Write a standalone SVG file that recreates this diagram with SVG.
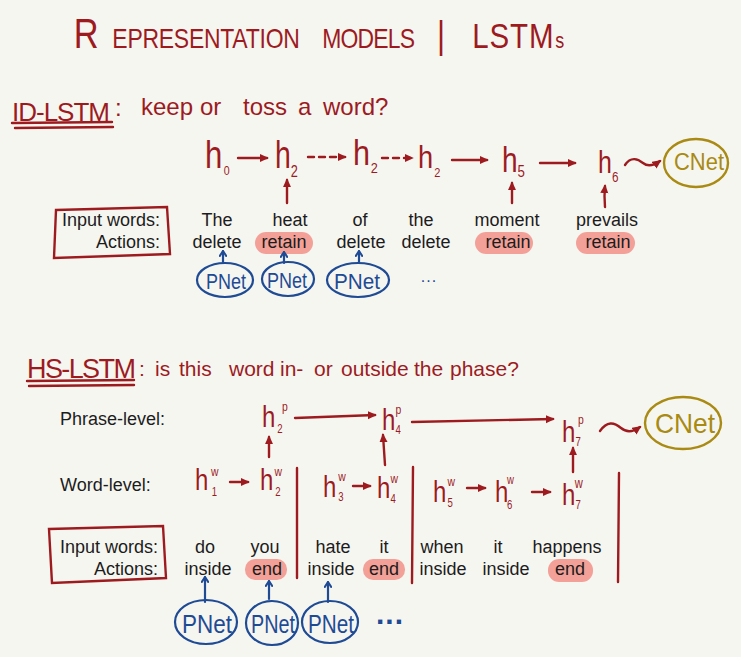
<svg xmlns="http://www.w3.org/2000/svg" width="741" height="657" viewBox="0 0 741 657">
<defs>
<style>
.hw{font-family:"Liberation Sans",Arial,sans-serif;fill:#9d1b1f}
.sans{font-family:"Liberation Sans",Arial,sans-serif;font-size:18px;fill:#1c1c1c}
.c{text-anchor:middle}
.r{text-anchor:end}
.ln{fill:none;stroke:#9d1b1f;stroke-width:2.4;stroke-linecap:round}
.bl{fill:none;stroke:#1f4b95;stroke-width:2.2;stroke-linecap:round}
.gd{fill:none;stroke:#a98a12;stroke-width:2.4}
.hl{fill:#f3a198}
.pn{font-family:"Liberation Sans",Arial,sans-serif;fill:#1f4b95;text-anchor:middle}
.cn{font-family:"Liberation Sans",Arial,sans-serif;fill:#a98a12;text-anchor:middle}
</style>
<marker id="ah" viewBox="0 0 10 10" refX="8" refY="5" markerWidth="9" markerHeight="9" markerUnits="userSpaceOnUse" orient="auto"><path d="M0,0.5 L10,5 L0,9.5 Z" fill="#9d1b1f"/></marker>
<marker id="bh" viewBox="0 0 10 10" refX="9" refY="5" markerWidth="8" markerHeight="8" markerUnits="userSpaceOnUse" orient="auto"><path d="M3,1 L9,5 L3,9" fill="none" stroke="#1f4b95" stroke-width="2.6" stroke-linecap="round" stroke-linejoin="round"/></marker>
</defs>
<rect width="741" height="657" fill="#f6f6f1"/>

<g id="title">
<text class="hw" transform="translate(0,48) scale(0.82,1)"><tspan x="90" font-size="42">R</tspan><tspan x="137" font-size="28" letter-spacing="-0.3">EPRESENTATION </tspan><tspan x="393" font-size="28" letter-spacing="-1">MODELS </tspan><tspan x="533" font-size="38">| </tspan><tspan x="576" font-size="36" letter-spacing="1">LSTM</tspan><tspan x="677" font-size="22">s</tspan></text>
</g>

<g id="subtitle-id">
<text class="hw" y="121"><tspan x="12" font-size="26" letter-spacing="-1">ID-LSTM</tspan><tspan x="115" y="116" font-size="24">: </tspan><tspan x="141" y="115" font-size="24">keep </tspan><tspan x="200" y="115" font-size="24">or </tspan><tspan x="243" y="115" font-size="24">toss </tspan><tspan x="298" y="115" font-size="24">a </tspan><tspan x="323" y="115" font-size="24">word?</tspan></text>
<path class="ln" d="M12,123 L112,122 M15,128 L113,127" stroke-width="2"/>
</g>

<g id="subtitle-hs">
<text class="hw" y="378"><tspan x="27" font-size="27" letter-spacing="-1.6">HS-LSTM</tspan><tspan x="139" y="376" font-size="21">: </tspan><tspan x="155" y="376" font-size="21">is </tspan><tspan x="179" y="376" font-size="21">this </tspan><tspan x="229" y="376" font-size="21">word </tspan><tspan x="280" y="376" font-size="21">in- </tspan><tspan x="314" y="376" font-size="21">or </tspan><tspan x="341" y="376" font-size="21">outside </tspan><tspan x="414" y="376" font-size="21">the </tspan><tspan x="450" y="376" font-size="21">phase?</tspan></text>
<path class="ln" d="M27,381 L134,380 M29,386 L134,385" stroke-width="2"/>
</g>

<!-- ID-LSTM states -->
<g id="n-h0"><text class="hw" transform="translate(205,168) scale(0.82,1)"><tspan font-size="38">h</tspan><tspan x="23" y="7" font-size="13">0</tspan></text></g>
<g id="n-h2a"><text class="hw" transform="translate(275,168) scale(0.75,1)"><tspan font-size="38">h</tspan><tspan x="21" y="9" font-size="17">2</tspan></text></g>
<g id="n-h2b"><text class="hw" transform="translate(353,165) scale(0.85,1)"><tspan font-size="36">h</tspan><tspan x="21" y="8" font-size="15">2</tspan></text></g>
<g id="n-h2c"><text class="hw" transform="translate(418,168) scale(0.85,1)"><tspan font-size="32">h</tspan><tspan x="19" y="9" font-size="13">2</tspan></text></g>
<g id="n-h5"><text class="hw" transform="translate(502,172) scale(0.78,1)"><tspan font-size="36">h</tspan><tspan x="20" y="5" font-size="17">5</tspan></text></g>
<g id="n-h6"><text class="hw" transform="translate(598,173) scale(0.78,1)"><tspan font-size="32">h</tspan><tspan x="18" y="9" font-size="15">6</tspan></text></g>
<g id="n-cnet1"><ellipse class="gd" cx="696" cy="163" rx="32" ry="24"/><text class="cn" x="699" y="170" font-size="24" textLength="50" lengthAdjust="spacingAndGlyphs">CNet</text></g>

<g id="labels-id">
<path class="ln" d="M56,210 L167,207 L170,254 L54,258 Z" stroke-width="2"/>
<text class="sans r" x="160" y="226">Input words:</text>
<text class="sans r" x="160" y="248">Actions:</text>
</g>

<g id="highlights-id">
<rect class="hl" x="255" y="232" width="58" height="22" rx="11"/>
<rect class="hl" x="475" y="232" width="58" height="22" rx="11"/>
<rect class="hl" x="576" y="232" width="59" height="22" rx="11"/>
</g>

<g id="words-id">
<text class="sans c" x="217" y="226">The</text>
<text class="sans c" x="290" y="226">heat</text>
<text class="sans c" x="360" y="226">of</text>
<text class="sans c" x="421" y="226">the</text>
<text class="sans c" x="507" y="226">moment</text>
<text class="sans c" x="607" y="226">prevails</text>
<text class="sans c" x="217" y="248">delete</text>
<text class="sans c" x="284" y="248">retain</text>
<text class="sans c" x="361" y="248">delete</text>
<text class="sans c" x="426" y="248">delete</text>
<text class="sans c" x="508" y="248">retain</text>
<text class="sans c" x="608" y="248">retain</text>
</g>

<g id="pnet-id-1"><ellipse class="bl" cx="225" cy="280" rx="28" ry="17"/><text class="pn" x="226" y="289" font-size="22" textLength="40" lengthAdjust="spacingAndGlyphs">PNet</text></g>
<g id="pnet-id-2"><ellipse class="bl" cx="288" cy="279" rx="26" ry="17"/><text class="pn" x="287" y="288" font-size="22" textLength="40" lengthAdjust="spacingAndGlyphs">PNet</text></g>
<g id="pnet-id-3"><ellipse class="bl" cx="358" cy="280" rx="31" ry="17"/><text class="pn" x="357" y="289" font-size="22" textLength="46" lengthAdjust="spacingAndGlyphs">PNet</text></g>
<text class="pn" x="429" y="282" font-size="16" letter-spacing="1">...</text>

<!-- HS-LSTM -->
<g id="labels-hs">
<text class="sans" x="60" y="425">Phrase-level:</text>
<text class="sans" x="60" y="491">Word-level:</text>
<path class="ln" d="M49,529 L163,526 L166,578 L52,583 Z" stroke-width="2"/>
<text class="sans r" x="158" y="553">Input words:</text>
<text class="sans r" x="158" y="575">Actions:</text>
</g>

<g id="n-h2p"><text class="hw" transform="translate(262,427) scale(0.8,1)"><tspan font-size="30">h</tspan><tspan x="25" y="-16" font-size="13">p</tspan><tspan x="19" y="6" font-size="12">2</tspan></text></g>
<g id="n-h4p"><text class="hw" transform="translate(382,430) scale(0.8,1)"><tspan font-size="30">h</tspan><tspan x="17" y="-16" font-size="13">p</tspan><tspan x="17" y="4" font-size="12">4</tspan></text></g>
<g id="n-h7p"><text class="hw" transform="translate(562,442) scale(0.8,1)"><tspan font-size="30">h</tspan><tspan x="20" y="-18" font-size="13">p</tspan><tspan x="17" y="4" font-size="12">7</tspan></text></g>
<g id="n-cnet2"><ellipse class="gd" cx="683" cy="423" rx="38" ry="26"/><text class="cn" x="685" y="433" font-size="28" textLength="60" lengthAdjust="spacingAndGlyphs">CNet</text></g>

<g id="n-h1w"><text class="hw" transform="translate(195,490) scale(0.8,1)"><tspan font-size="30">h</tspan><tspan x="20" y="-14" font-size="13">w</tspan><tspan x="21" y="6" font-size="12">1</tspan></text></g>
<g id="n-h2w"><text class="hw" transform="translate(260,490) scale(0.8,1)"><tspan font-size="30">h</tspan><tspan x="18" y="-14" font-size="13">w</tspan><tspan x="19" y="6" font-size="12">2</tspan></text></g>
<g id="n-h3w"><text class="hw" transform="translate(323,497) scale(0.8,1)"><tspan font-size="30">h</tspan><tspan x="19" y="-16" font-size="13">w</tspan><tspan x="19" y="4" font-size="12">3</tspan></text></g>
<g id="n-h4w"><text class="hw" transform="translate(377,498) scale(0.8,1)"><tspan font-size="30">h</tspan><tspan x="17" y="-15" font-size="13">w</tspan><tspan x="17" y="5" font-size="12">4</tspan></text></g>
<g id="n-h5w"><text class="hw" transform="translate(433,502) scale(0.8,1)"><tspan font-size="30">h</tspan><tspan x="18" y="-16" font-size="13">w</tspan><tspan x="18" y="5" font-size="12">5</tspan></text></g>
<g id="n-h6w"><text class="hw" transform="translate(495,502) scale(0.8,1)"><tspan font-size="30">h</tspan><tspan x="15" y="-18" font-size="12">w</tspan><tspan x="15" y="7" font-size="12">6</tspan></text></g>
<g id="n-h7w"><text class="hw" transform="translate(562,505) scale(0.8,1)"><tspan font-size="30">h</tspan><tspan x="16" y="-17" font-size="14">w</tspan><tspan x="17" y="4" font-size="12">7</tspan></text></g>

<g id="highlights-hs">
<rect class="hl" x="245" y="559" width="42" height="21" rx="10"/>
<rect class="hl" x="363" y="559" width="42" height="21" rx="10"/>
<rect class="hl" x="548" y="559" width="45" height="23" rx="11"/>
</g>

<g id="words-hs">
<text class="sans c" x="205" y="553">do</text>
<text class="sans c" x="265" y="553">you</text>
<text class="sans c" x="333" y="553">hate</text>
<text class="sans c" x="384" y="553">it</text>
<text class="sans c" x="442" y="553">when</text>
<text class="sans c" x="498" y="553">it</text>
<text class="sans c" x="567" y="553">happens</text>
<text class="sans c" x="208" y="575">inside</text>
<text class="sans c" x="267" y="575">end</text>
<text class="sans c" x="331" y="575">inside</text>
<text class="sans c" x="384" y="575">end</text>
<text class="sans c" x="443" y="575">inside</text>
<text class="sans c" x="506" y="575">inside</text>
<text class="sans c" x="570" y="575">end</text>
</g>

<g id="pnet-hs-1"><ellipse class="bl" cx="206" cy="622" rx="31" ry="22"/><text class="pn" x="207" y="633" font-size="26" textLength="50" lengthAdjust="spacingAndGlyphs">PNet</text></g>
<g id="pnet-hs-2"><ellipse class="bl" cx="272" cy="623" rx="26" ry="22"/><text class="pn" x="273" y="633" font-size="26" textLength="44" lengthAdjust="spacingAndGlyphs">PNet</text></g>
<g id="pnet-hs-3"><ellipse class="bl" cx="330" cy="622" rx="28" ry="21"/><text class="pn" x="331" y="633" font-size="26" textLength="46" lengthAdjust="spacingAndGlyphs">PNet</text></g>
<text class="pn" x="390" y="624" font-size="30" font-weight="bold" letter-spacing="1">...</text>

<g id="connectors">
<path class="ln" d="M238,158 L267,158" marker-end="url(#ah)"/>
<path class="ln" d="M308,157 L345,157" stroke-dasharray="6,5" marker-end="url(#ah)"/>
<path class="ln" d="M382,158 L412,158" stroke-dasharray="6,5" marker-end="url(#ah)"/>
<path class="ln" d="M452,160 L487,160" marker-end="url(#ah)"/>
<path class="ln" d="M540,163 L575,163" marker-end="url(#ah)"/>
<path class="ln" d="M625,165 C631,156 638,159 643,163 C648,167 653,166 660,161" marker-end="url(#ah)"/>
<path class="ln" d="M287,203 L287,180" marker-end="url(#ah)"/>
<path class="ln" d="M512,203 L512,183" marker-end="url(#ah)"/>
<path class="ln" d="M605,207 Q604,196 605,186" marker-end="url(#ah)"/>

<path class="bl" d="M223,262 L223,251" marker-end="url(#bh)"/>
<path class="bl" d="M284,263 L284,252" marker-end="url(#bh)"/>
<path class="bl" d="M359,262 L359,251" marker-end="url(#bh)"/>

<path class="ln" d="M295,418 L375,415" marker-end="url(#ah)"/>
<path class="ln" d="M412,422 L553,419" marker-end="url(#ah)"/>
<path class="ln" d="M600,431 C607,421 614,422 621,428 C627,433 633,432 640,427" marker-end="url(#ah)"/>
<path class="ln" d="M269,457 L269,437" marker-end="url(#ah)"/>
<path class="ln" d="M385,465 L383,435" marker-end="url(#ah)"/>
<path class="ln" d="M573,472 L573,448" marker-end="url(#ah)"/>
<path class="ln" d="M230,482 L248,482" marker-end="url(#ah)"/>
<path class="ln" d="M353,486 L370,486" marker-end="url(#ah)"/>
<path class="ln" d="M467,488 L485,488" marker-end="url(#ah)"/>
<path class="ln" d="M532,492 L550,492" marker-end="url(#ah)"/>
<path class="ln" d="M297,468 L297,578"/>
<path class="ln" d="M413,467 L412,583"/>
<path class="ln" d="M619,473 L618,582"/>

<path class="bl" d="M205,602 L205,577" marker-end="url(#bh)"/>
<path class="bl" d="M269,599 L269,581" marker-end="url(#bh)"/>
<path class="bl" d="M328,602 L328,582" marker-end="url(#bh)"/>
</g>
</svg>
